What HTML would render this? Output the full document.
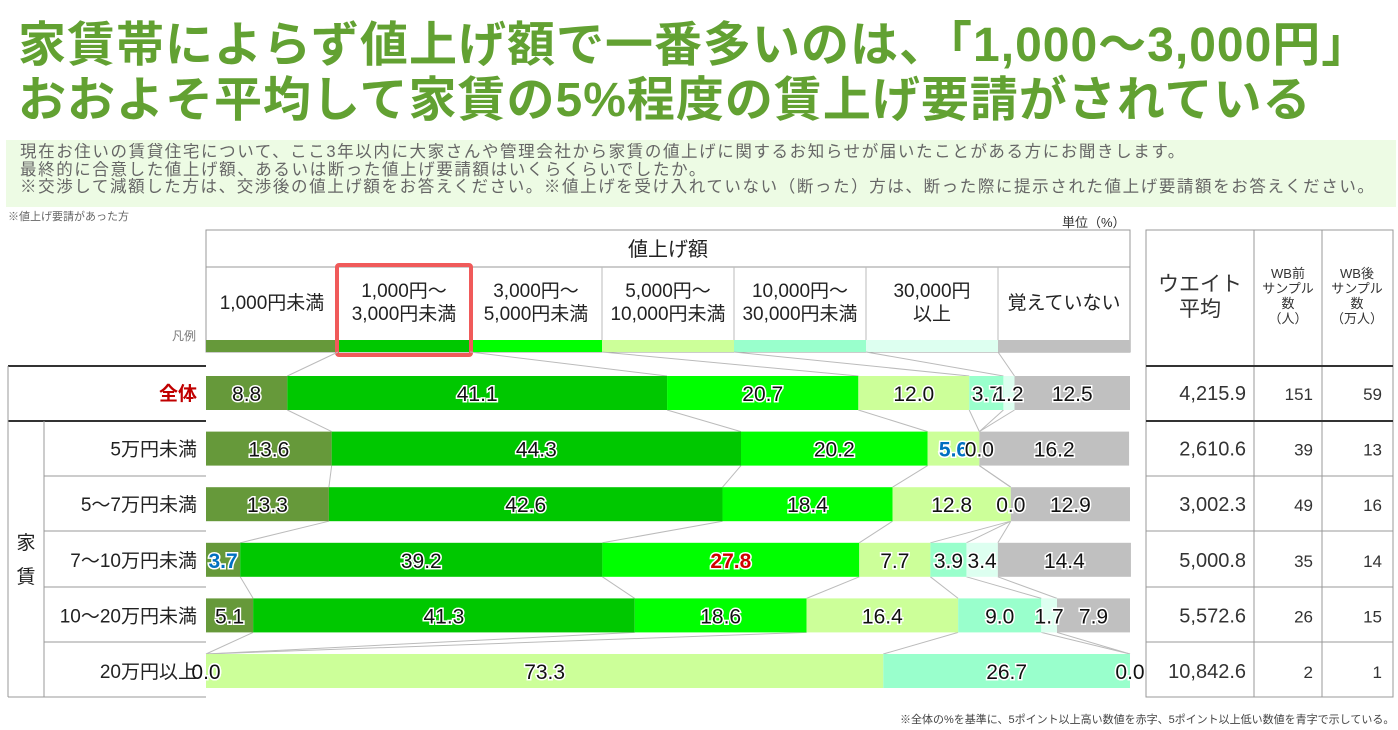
<!DOCTYPE html>
<html><head><meta charset="utf-8">
<style>
body{margin:0;width:1398px;height:730px;background:#fff;overflow:hidden;font-family:"Liberation Sans","Noto Sans CJK JP",sans-serif;position:relative}
.t{position:absolute;left:18px;color:#62a132;font-weight:bold;font-size:48px;letter-spacing:1px;white-space:nowrap;line-height:56px}
.info{position:absolute;left:6px;top:140px;width:1390px;height:67px;background:#edfbe4;color:#666;font-size:16.5px;letter-spacing:1.6px;line-height:17.5px;padding:4px 0 0 14px;box-sizing:border-box;white-space:nowrap}
.sm{position:absolute;font-size:11px;color:#666}
</style></head><body>
<div class="t" style="top:18px">家賃帯によらず値上げ額で一番多いのは、「1,000～3,000円」</div>
<div class="t" style="top:73px">おおよそ平均して家賃の5%程度の賃上げ要請がされている</div>
<div class="info">現在お住いの賃貸住宅について、ここ3年以内に大家さんや管理会社から家賃の値上げに関するお知らせが届いたことがある方にお聞きします。<br>最終的に合意した値上げ額、あるいは断った値上げ要請額はいくらくらいでしたか。<br>※交渉して減額した方は、交渉後の値上げ額をお答えください。※値上げを受け入れていない（断った）方は、断った際に提示された値上げ要請額をお答えください。</div>
<div class="sm" style="left:8px;top:208px">※値上げ要請があった方</div>
<div class="sm" style="left:1062px;top:212px;font-size:13px;color:#333">単位（%）</div>
<div class="sm" style="left:900px;top:711px;font-size:11px;color:#444">※全体の%を基準に、5ポイント以上高い数値を赤字、5ポイント以上低い数値を青字で示している。</div>
<svg id="chart" width="1398" height="730" style="position:absolute;left:0;top:0" font-family="Liberation Sans, Noto Sans CJK JP, sans-serif"></svg>
<script>
const categories=["1,000円未満","1,000円～|3,000円未満","3,000円～|5,000円未満","5,000円～|10,000円未満","10,000円～|30,000円未満","30,000円|以上","覚えていない"];
const rowLabels=["全体","5万円未満","5～7万円未満","7～10万円未満","10～20万円未満","20万円以上"];
const r0=[8.8,41.1,20.7,12.0,3.7,1.2,12.5];
const r1=[13.6,44.3,20.2,5.6,0.0,0.0,16.2];
const r2=[13.3,42.6,18.4,12.8,0.0,0.0,12.9];
const r3=[3.7,39.2,27.8,7.7,3.9,3.4,14.4];
const r4=[5.1,41.3,18.6,16.4,9.0,1.7,7.9];
const r5=[0.0,0.0,0.0,73.3,26.7,0.0,0.0];
const weightAvg=["4,215.9","2,610.6","3,002.3","5,000.8","5,572.6","10,842.6"];
const nBefore=["151","39","49","35","26","2"];
const nAfter=["59","13","16","14","15","1"];
const highlight=[[0,0,0,0,0,0,0],[0,0,0,-1,0,0,0],[0,0,0,0,0,0,0],[-1,0,1,0,0,0,0],[0,0,0,0,0,0,0],[0,0,0,0,0,0,0]];
const rows=[r0,r1,r2,r3,r4,r5];
const colors=["#66993a","#00c800","#00ff00","#ccff99","#99ffcc","#ddfff0","#c0c0c0"];
const X0=206,W=924,BH=34;
const x=v=>X0+v/100*W;
const rowTop=i=>376+i*55.6;
const svg=document.getElementById('chart');
const NS="http://www.w3.org/2000/svg";
function mk(tag,a,p){const e=document.createElementNS(NS,tag);for(const k in a)e.setAttribute(k,a[k]);(p||svg).appendChild(e);return e;}
function txt(s,xx,yy,size,fill,anchor,extra){const e=mk('text',Object.assign({x:xx,y:yy,'font-size':size,fill:fill,'text-anchor':anchor||'middle'},extra||{}));e.textContent=s;return e;}
const grid="#999";
const hb=mk('rect',{x:X0,y:230,width:W,height:122,fill:'#fff',stroke:grid});

mk('line',{x1:X0,y1:267,x2:X0+W,y2:267,stroke:grid});
const ht=txt("値上げ額",X0+W/2,256,20,'#222');

const cw=W/7;
categories.forEach((c,j)=>{
 const cx=X0+j*cw;
 if(j>0)mk('line',{x1:cx,y1:267,x2:cx,y2:340,stroke:'#bbb'});
 const parts=c.split('|');
 parts.forEach((p,k)=>{const t=txt(p,cx+cw/2,parts.length==1?309:297+k*23,19,'#222');
 });
 const r=mk('rect',{x:cx,y:340,width:cw,height:12,fill:colors[j]});
 
});
const hl=mk('rect',{x:337,y:265,width:134,height:90,fill:'none',stroke:'#f05a5a','stroke-width':4,rx:2});

txt("凡例",196,340,12,'#777','end');
function cum(r){const c=[0];r.forEach(v=>c.push(c[c.length-1]+v));return c;}
for(let j=1;j<7;j++){const c=cum(r0);mk('line',{x1:X0+j*cw,y1:352,x2:x(c[j]),y2:rowTop(0),stroke:'#bbb'});}
rows.forEach((r,i)=>{if(i<rows.length-1){const a=cum(r),b=cum(rows[i+1]);for(let j=1;j<7;j++)mk('line',{x1:x(a[j]),y1:rowTop(i)+BH,x2:x(b[j]),y2:rowTop(i+1),stroke:'#bbb'});}});
rows.forEach((r,i)=>{
 const c=cum(r),y=rowTop(i);
 r.forEach((v,j)=>{const b=mk('rect',{x:x(c[j]),y:y,width:x(c[j+1])-x(c[j]),height:BH,fill:colors[j]});
 });
 r.forEach((v,j)=>{
  const h=highlight[i][j];const fill=h>0?'#d00000':h<0?'#0070c0':'#111';
  const t=txt(v.toFixed(1),(x(c[j])+x(c[j+1]))/2,y+BH/2+8,21,fill,'middle',{stroke:'#fff','stroke-width':3,'paint-order':'stroke','font-weight':h?'bold':'normal'});
  
 });
});
const lines=[366,420,476,531,587,642,697];
mk('line',{x1:8,y1:366,x2:206,y2:366,stroke:'#333','stroke-width':2});
mk('line',{x1:8,y1:421,x2:206,y2:421,stroke:'#333','stroke-width':2});
mk('line',{x1:8,y1:366,x2:8,y2:697,stroke:grid});
mk('line',{x1:44,y1:421,x2:44,y2:697,stroke:grid});
mk('line',{x1:8,y1:697,x2:206,y2:697,stroke:grid});
for(let k=2;k<6;k++)mk('line',{x1:44,y1:lines[k],x2:206,y2:lines[k],stroke:grid});
txt("家",26,549,19,'#222');txt("賃",26,583,19,'#222');
rowLabels.forEach((l,i)=>{const t=txt(l,197,rowTop(i)+BH/2+7,19,i==0?'#c00000':'#222','end',i==0?{'font-weight':'bold'}:{});
 });
mk('rect',{x:1146,y:230,width:247,height:467,fill:'none',stroke:grid});
mk('line',{x1:1254,y1:230,x2:1254,y2:697,stroke:grid});mk('line',{x1:1322,y1:230,x2:1322,y2:697,stroke:grid});
mk('line',{x1:1146,y1:366,x2:1393,y2:366,stroke:'#333','stroke-width':2});
mk('line',{x1:1146,y1:421,x2:1393,y2:421,stroke:'#333','stroke-width':2});
for(let k=2;k<6;k++)mk('line',{x1:1146,y1:lines[k],x2:1393,y2:lines[k],stroke:grid});
txt("ウエイト",1200,291,21,'#333');txt("平均",1200,316,21,'#333');
["WB前","サンプル","数","（人）"].forEach((s,k)=>txt(s,1288,278+k*15,13,'#333'));
["WB後","サンプル","数","（万人）"].forEach((s,k)=>txt(s,1357,278+k*15,13,'#333'));
rows.forEach((r,i)=>{const yy=rowTop(i)+BH/2+7;
 txt(weightAvg[i],1246,yy,20,'#333','end');txt(nBefore[i],1313,yy,17,'#333','end');txt(nAfter[i],1382,yy,17,'#333','end');});
</script>
</body></html>
